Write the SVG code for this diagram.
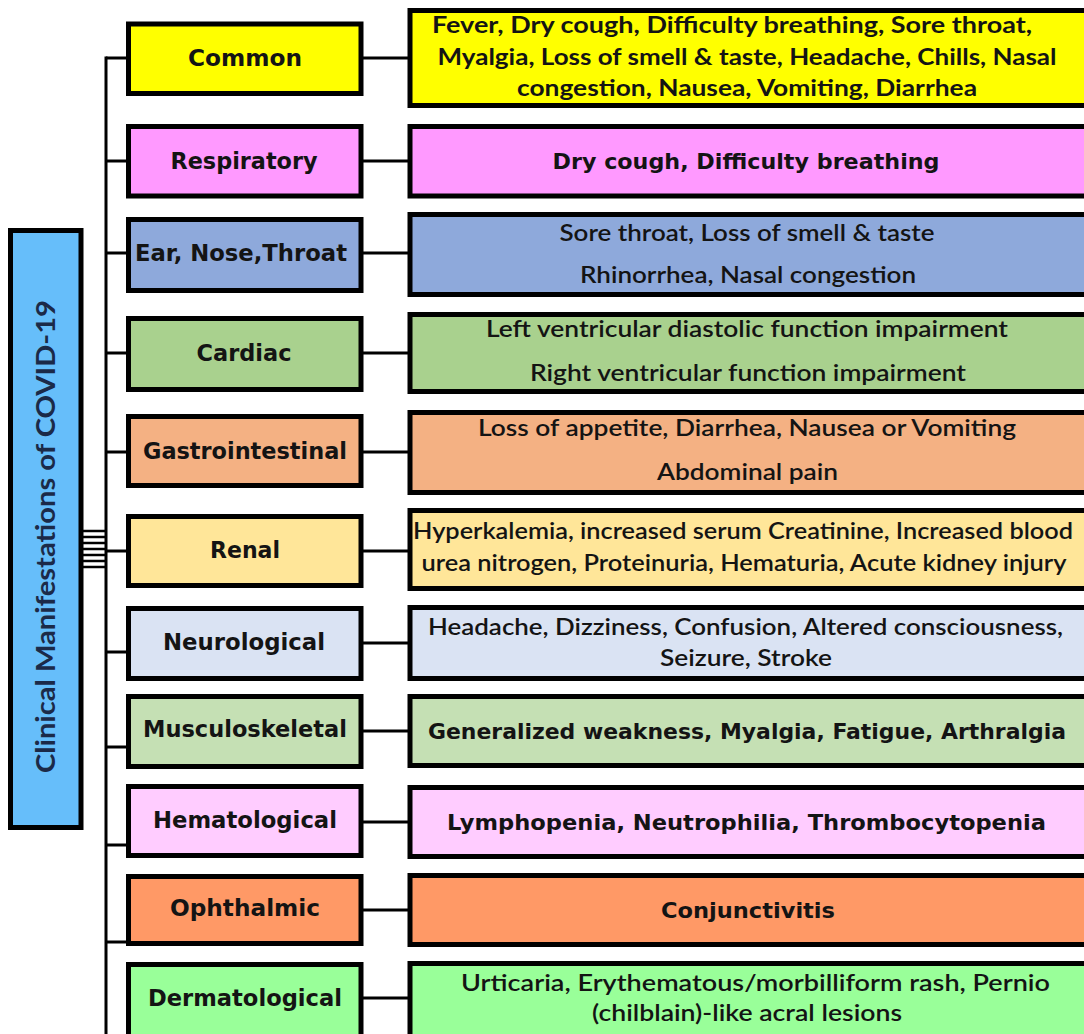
<svg xmlns="http://www.w3.org/2000/svg" width="1084" height="1034" viewBox="0 0 1084 1034">
<style>
.box{stroke:#000;stroke-width:5}
.ln{stroke:#000;stroke-width:3;fill:none}
.cat{font-family:"DejaVu Sans",Verdana,sans-serif;font-weight:bold;font-size:22.5px;fill:#141414;text-anchor:middle}
.tb{font-family:"DejaVu Sans",Verdana,sans-serif;font-weight:bold;font-size:22px;fill:#141414;text-anchor:middle}
.cal{font-family:Lato,"Open Sans",sans-serif;font-weight:600;font-size:22.5px;fill:#141414;text-anchor:middle}
.calb{font-family:Lato,"Open Sans",sans-serif;font-weight:700;font-size:22.5px;fill:#141414;text-anchor:middle}
.title{font-family:Lato,"Open Sans",sans-serif;font-weight:bold;font-size:26px;fill:#1b2a48;text-anchor:middle}
</style>
<rect width="1084" height="1034" fill="#fff"/>
<g id="connectors">
<line class="ln" x1="106" y1="56.5" x2="106" y2="1034"/>
<g stroke="#000" stroke-width="2.5">
<line x1="82" y1="531" x2="106" y2="531"/>
<line x1="82" y1="537" x2="106" y2="537"/>
<line x1="82" y1="543" x2="106" y2="543"/>
<line x1="82" y1="549" x2="106" y2="549"/>
<line x1="82" y1="555" x2="106" y2="555"/>
<line x1="82" y1="561" x2="106" y2="561"/>
<line x1="82" y1="567" x2="106" y2="567"/>
</g>
<line class="ln" x1="106" y1="58" x2="128" y2="58"/>
<line class="ln" x1="106" y1="161" x2="128" y2="161"/>
<line class="ln" x1="106" y1="253" x2="128" y2="253"/>
<line class="ln" x1="106" y1="353" x2="128" y2="353"/>
<line class="ln" x1="106" y1="452" x2="128" y2="452"/>
<line class="ln" x1="106" y1="551" x2="128" y2="551" stroke-width="2"/>
<line class="ln" x1="106" y1="652" x2="128" y2="652"/>
<line class="ln" x1="106" y1="747" x2="128" y2="747"/>
<line class="ln" x1="106" y1="845" x2="128" y2="845"/>
<line class="ln" x1="106" y1="942" x2="128" y2="942"/>
<line class="ln" x1="361" y1="58" x2="410" y2="58"/>
<line class="ln" x1="361" y1="161" x2="410" y2="161"/>
<line class="ln" x1="361" y1="253" x2="410" y2="253"/>
<line class="ln" x1="361" y1="353" x2="410" y2="353"/>
<line class="ln" x1="361" y1="452" x2="410" y2="452"/>
<line class="ln" x1="361" y1="551" x2="410" y2="551"/>
<line class="ln" x1="361" y1="643" x2="410" y2="643"/>
<line class="ln" x1="361" y1="731" x2="410" y2="731"/>
<line class="ln" x1="361" y1="822" x2="410" y2="822"/>
<line class="ln" x1="361" y1="910" x2="410" y2="910"/>
<line class="ln" x1="361" y1="998" x2="410" y2="998"/>
</g>
<g id="title">
<rect class="box" x="10.5" y="230.5" width="70.5" height="597" fill="#66BEFA"/>
<text class="title" transform="translate(54.5,536.5) rotate(-90)" textLength="473" lengthAdjust="spacingAndGlyphs">Clinical Manifestations of COVID-19</text>
</g>
<g id="common">
<rect class="box" x="128.5" y="24" width="232.5" height="69.5" fill="#FFFF00"/>
<text class="cat" x="245" y="66" textLength="114" lengthAdjust="spacingAndGlyphs">Common</text>
</g>
<g id="common-detail">
<rect class="box" x="410" y="10.5" width="690" height="95" fill="#FFFF00"/>
<text class="calb" x="732" y="33" textLength="600" lengthAdjust="spacingAndGlyphs">Fever, Dry cough, Difficulty breathing, Sore throat,</text>
<text class="calb" x="747" y="65" textLength="619" lengthAdjust="spacingAndGlyphs">Myalgia, Loss of smell &amp; taste, Headache, Chills, Nasal</text>
<text class="calb" x="747" y="96" textLength="460" lengthAdjust="spacingAndGlyphs">congestion, Nausea, Vomiting, Diarrhea</text>
</g>
<g id="respiratory">
<rect class="box" x="128.5" y="126.5" width="232.5" height="69.5" fill="#FF99FF"/>
<text class="cat" x="244" y="168.5" textLength="147" lengthAdjust="spacingAndGlyphs">Respiratory</text>
</g>
<g id="respiratory-detail">
<rect class="box" x="410" y="126.5" width="690" height="69.5" fill="#FF99FF"/>
<text class="tb" x="746" y="168.5" textLength="387" lengthAdjust="spacingAndGlyphs">Dry cough, Difficulty breathing</text>
</g>
<g id="ent">
<rect class="box" x="128.5" y="219.5" width="232.5" height="71" fill="#8EA9DB"/>
<text class="cat" x="241" y="261" textLength="212" lengthAdjust="spacingAndGlyphs">Ear, Nose,Throat</text>
</g>
<g id="ent-detail">
<rect class="box" x="410" y="214.5" width="690" height="80" fill="#8EA9DB"/>
<text class="cal" x="747" y="241" textLength="375" lengthAdjust="spacingAndGlyphs">Sore throat, Loss of smell &amp; taste</text>
<text class="cal" x="748" y="283" textLength="336" lengthAdjust="spacingAndGlyphs">Rhinorrhea, Nasal congestion</text>
</g>
<g id="cardiac">
<rect class="box" x="128.5" y="318.5" width="232.5" height="71" fill="#A9D18E"/>
<text class="cat" x="244" y="360.5" textLength="95" lengthAdjust="spacingAndGlyphs">Cardiac</text>
</g>
<g id="cardiac-detail">
<rect class="box" x="410" y="314.5" width="690" height="77" fill="#A9D18E"/>
<text class="cal" x="747" y="337" textLength="522" lengthAdjust="spacingAndGlyphs">Left ventricular diastolic function impairment</text>
<text class="cal" x="748" y="381" textLength="436" lengthAdjust="spacingAndGlyphs">Right ventricular function impairment</text>
</g>
<g id="gastrointestinal">
<rect class="box" x="128.5" y="416.5" width="232.5" height="69" fill="#F4B183"/>
<text class="cat" x="245" y="458.5" textLength="204" lengthAdjust="spacingAndGlyphs">Gastrointestinal</text>
</g>
<g id="gastrointestinal-detail">
<rect class="box" x="410" y="412.5" width="690" height="80" fill="#F4B183"/>
<text class="cal" x="747" y="436" textLength="538" lengthAdjust="spacingAndGlyphs">Loss of appetite, Diarrhea, Nausea or Vomiting</text>
<text class="cal" x="747.5" y="480" textLength="181" lengthAdjust="spacingAndGlyphs">Abdominal pain</text>
</g>
<g id="renal">
<rect class="box" x="128.5" y="516.5" width="232.5" height="69" fill="#FFE699"/>
<text class="cat" x="245" y="558" textLength="70" lengthAdjust="spacingAndGlyphs">Renal</text>
</g>
<g id="renal-detail">
<rect class="box" x="410" y="510.5" width="690" height="78" fill="#FFE699"/>
<text class="cal" x="743" y="539" textLength="660" lengthAdjust="spacingAndGlyphs">Hyperkalemia, increased serum Creatinine, Increased blood</text>
<text class="cal" x="744" y="571" textLength="645" lengthAdjust="spacingAndGlyphs">urea nitrogen, Proteinuria, Hematuria, Acute kidney injury</text>
</g>
<g id="neurological">
<rect class="box" x="128.5" y="608.5" width="232.5" height="70" fill="#DAE3F3"/>
<text class="cat" x="244" y="650" textLength="162" lengthAdjust="spacingAndGlyphs">Neurological</text>
</g>
<g id="neurological-detail">
<rect class="box" x="410" y="607.5" width="690" height="71" fill="#DAE3F3"/>
<text class="cal" x="745.5" y="635" textLength="635" lengthAdjust="spacingAndGlyphs">Headache, Dizziness, Confusion, Altered consciousness,</text>
<text class="cal" x="746" y="666" textLength="172" lengthAdjust="spacingAndGlyphs">Seizure, Stroke</text>
</g>
<g id="musculoskeletal">
<rect class="box" x="128.5" y="696.5" width="232.5" height="70" fill="#C5E0B4"/>
<text class="cat" x="245" y="737" textLength="204" lengthAdjust="spacingAndGlyphs">Musculoskeletal</text>
</g>
<g id="musculoskeletal-detail">
<rect class="box" x="410" y="696.5" width="690" height="69" fill="#C5E0B4"/>
<text class="tb" x="747" y="739" textLength="638" lengthAdjust="spacingAndGlyphs">Generalized weakness, Myalgia, Fatigue, Arthralgia</text>
</g>
<g id="hematological">
<rect class="box" x="128.5" y="786.5" width="232.5" height="69" fill="#FFCCFF"/>
<text class="cat" x="245" y="828" textLength="184" lengthAdjust="spacingAndGlyphs">Hematological</text>
</g>
<g id="hematological-detail">
<rect class="box" x="410" y="787.5" width="690" height="69" fill="#FFCCFF"/>
<text class="tb" x="746.5" y="830" textLength="599" lengthAdjust="spacingAndGlyphs">Lymphopenia, Neutrophilia, Thrombocytopenia</text>
</g>
<g id="ophthalmic">
<rect class="box" x="128.5" y="876.5" width="232.5" height="67" fill="#FF9966"/>
<text class="cat" x="245" y="916" textLength="150" lengthAdjust="spacingAndGlyphs">Ophthalmic</text>
</g>
<g id="ophthalmic-detail">
<rect class="box" x="410" y="875.5" width="690" height="69" fill="#FF9966"/>
<text class="tb" x="748" y="918" textLength="174" lengthAdjust="spacingAndGlyphs">Conjunctivitis</text>
</g>
<g id="dermatological">
<rect class="box" x="128.5" y="964.5" width="232.5" height="85" fill="#99FF99"/>
<text class="cat" x="245" y="1006" textLength="194" lengthAdjust="spacingAndGlyphs">Dermatological</text>
</g>
<g id="dermatological-detail">
<rect class="box" x="410" y="963.5" width="690" height="85" fill="#99FF99"/>
<text class="cal" x="755.5" y="991" textLength="589" lengthAdjust="spacingAndGlyphs">Urticaria, Erythematous/morbilliform rash, Pernio</text>
<text class="cal" x="747" y="1021" textLength="310" lengthAdjust="spacingAndGlyphs">(chilblain)-like acral lesions</text>
</g>
</svg>
